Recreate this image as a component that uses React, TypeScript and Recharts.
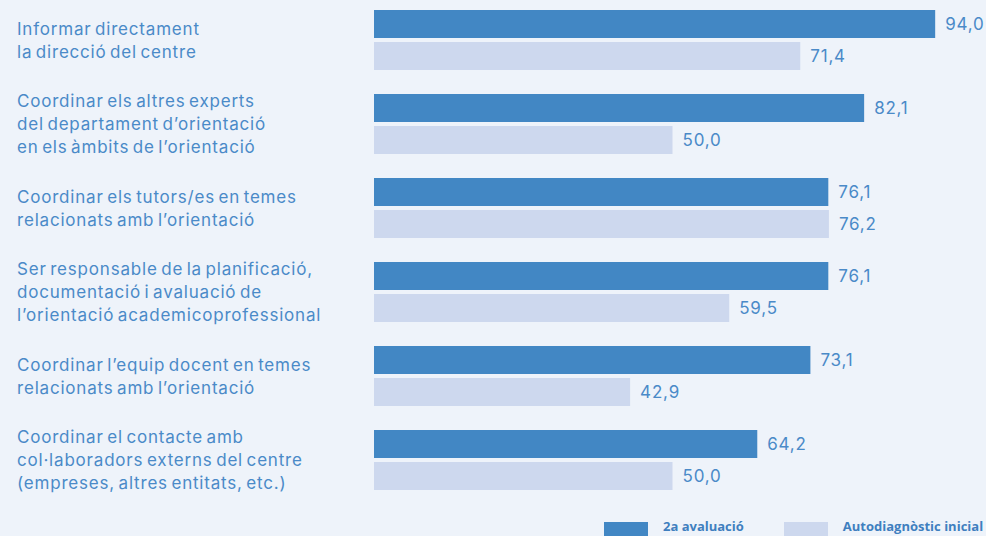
import { Bar, BarChart, XAxis, YAxis, LabelList } from "recharts"

const categories = [
  "Informar directament\nla direcció del centre",
  "Coordinar els altres experts\ndel departament d’orientació\nen els àmbits de l’orientació",
  "Coordinar els tutors/es en temes\nrelacionats amb l’orientació",
  "Ser responsable de la planificació,\ndocumentació i avaluació de\nl’orientació academicoprofessional",
  "Coordinar l’equip docent en temes\nrelacionats amb l’orientació",
  "Coordinar el contacte amb\ncol·laboradors externs del centre\n(empreses, altres entitats, etc.)",
]
const segonaAvaluacio = [94.0, 82.1, 76.1, 76.1, 73.1, 64.2]
const autodiagnostic = [71.4, 50.0, 76.2, 59.5, 42.9, 50.0]
const seriesNames = ["2a avaluació", "Autodiagnòstic inicial"]

const DARK = "#4287c4"
const LIGHT = "#cdd8ee"
const TEXT = "#4a8ac8"
const BG = "#eef3fa"
const FONT = "Inter, 'Open Sans', sans-serif"
const LEGEND_FONT = "'Open Sans', Inter, sans-serif"

const data = categories.map((c, i) => ({
  name: c,
  segona: segonaAvaluacio[i],
  auto: autodiagnostic[i],
}))

const fmt = (v: any) => Number(v).toFixed(1).replace(".", ",")

function CategoryTick({ y, payload }: any) {
  const lines = String(payload.value).split("\n")
  const lh = 23
  const first = -((lines.length - 1) / 2) * lh + 6
  return (
    <text
      x={17}
      y={y}
      fill={TEXT}
      fontSize={17}
      fontFamily={FONT}
      textAnchor="start"
      letterSpacing={0.8}
      wordSpacing={-2}
    >
      {lines.map((l, i) => (
        <tspan key={i} x={17} dy={i === 0 ? first : lh}>
          {l}
        </tspan>
      ))}
    </text>
  )
}

function ChartLegend() {
  const colors = [DARK, LIGHT]
  return (
    <div style={{ position: "absolute", left: 604, top: 522, display: "flex", alignItems: "flex-start", fontFamily: LEGEND_FONT }}>
      {seriesNames.map((n, i) => (
        <div key={n} style={{ display: "flex", alignItems: "flex-start", marginRight: i === 0 ? 40 : 0 }}>
          <div style={{ width: 44, height: 16, background: colors[i], marginRight: 15 }} />
          <span style={{ color: "#3f7fbf", fontWeight: 700, fontSize: 13, lineHeight: "13px", marginTop: -2 }}>{n}</span>
        </div>
      ))}
    </div>
  )
}

export default function App() {
  return (
    <div style={{ position: "absolute", left: 0, top: 0, width: 986, height: 536, background: BG, overflow: "hidden" }}>
      <BarChart
        width={986}
        height={536}
        data={data}
        layout="vertical"
        margin={{ top: -2, right: 15, left: 0, bottom: 34 }}
        barGap={4}
        barSize={28}
      >
        <XAxis type="number" domain={[0, 100]} hide />
        <YAxis
          type="category"
          dataKey="name"
          width={374}
          axisLine={false}
          tickLine={false}
          tick={<CategoryTick />}
          interval={0}
        />
        <Bar dataKey="segona" name={seriesNames[0]} fill={DARK} isAnimationActive={false}>
          <LabelList dataKey="segona" position="right" offset={10} formatter={fmt} fill={TEXT} fontSize={17} fontFamily={FONT} letterSpacing={0.8} />
        </Bar>
        <Bar dataKey="auto" name={seriesNames[1]} fill={LIGHT} isAnimationActive={false}>
          <LabelList dataKey="auto" position="right" offset={10} formatter={fmt} fill={TEXT} fontSize={17} fontFamily={FONT} letterSpacing={0.8} />
        </Bar>
      </BarChart>
      <ChartLegend />
    </div>
  )
}
